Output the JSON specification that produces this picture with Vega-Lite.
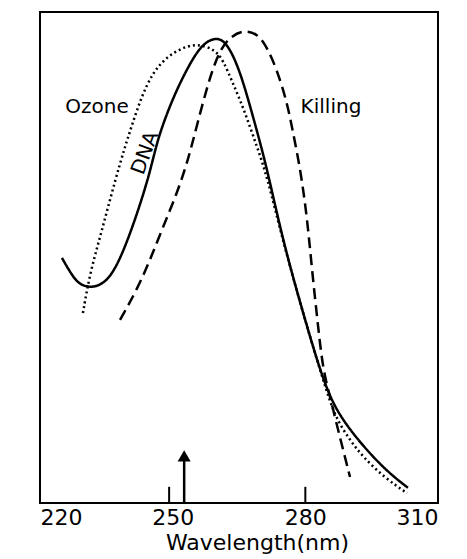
{
  "$schema": "https://vega.github.io/schema/vega-lite/v6.json",
  "width": 398,
  "height": 491,
  "autosize": "none",
  "padding": {"left": 40, "top": 12, "right": 29, "bottom": 56},
  "background": "white",
  "config": {
    "view": {"stroke": "black", "strokeWidth": 2},
    "font": "DejaVu Sans"
  },
  "datasets": {
    "curves": [
      {"series": "DNA", "w": 224.97, "v": 49.9},
      {"series": "DNA", "w": 227.2, "v": 46.4},
      {"series": "DNA", "w": 229.0, "v": 44.4},
      {"series": "DNA", "w": 231.8, "v": 43.8},
      {"series": "DNA", "w": 234.7, "v": 44.8},
      {"series": "DNA", "w": 237.4, "v": 48.1},
      {"series": "DNA", "w": 241.0, "v": 56.2},
      {"series": "DNA", "w": 244.9, "v": 67.2},
      {"series": "DNA", "w": 246.5, "v": 74.0},
      {"series": "DNA", "w": 250.1, "v": 82.7},
      {"series": "DNA", "w": 253.9, "v": 89.6},
      {"series": "DNA", "w": 256.9, "v": 93.7},
      {"series": "DNA", "w": 260.0, "v": 94.9},
      {"series": "DNA", "w": 262.3, "v": 93.7},
      {"series": "DNA", "w": 265.2, "v": 88.2},
      {"series": "DNA", "w": 268.2, "v": 78.6},
      {"series": "DNA", "w": 271.3, "v": 68.4},
      {"series": "DNA", "w": 275.0, "v": 53.0},
      {"series": "DNA", "w": 280.4, "v": 35.8},
      {"series": "DNA", "w": 284.0, "v": 25.1},
      {"series": "DNA", "w": 287.2, "v": 18.3},
      {"series": "DNA", "w": 293.0, "v": 11.6},
      {"series": "DNA", "w": 298.5, "v": 6.4},
      {"series": "DNA", "w": 303.2, "v": 3.1},
      {"series": "Ozone", "w": 229.7, "v": 38.7},
      {"series": "Ozone", "w": 231.3, "v": 46.8},
      {"series": "Ozone", "w": 233.6, "v": 54.2},
      {"series": "Ozone", "w": 235.8, "v": 61.7},
      {"series": "Ozone", "w": 238.1, "v": 69.2},
      {"series": "Ozone", "w": 239.9, "v": 74.5},
      {"series": "Ozone", "w": 241.9, "v": 80.0},
      {"series": "Ozone", "w": 244.2, "v": 85.5},
      {"series": "Ozone", "w": 247.1, "v": 89.6},
      {"series": "Ozone", "w": 251.0, "v": 92.3},
      {"series": "Ozone", "w": 255.5, "v": 93.7},
      {"series": "Ozone", "w": 259.6, "v": 92.3},
      {"series": "Ozone", "w": 261.4, "v": 90.2},
      {"series": "Ozone", "w": 263.6, "v": 85.5},
      {"series": "Ozone", "w": 265.9, "v": 80.7},
      {"series": "Ozone", "w": 269.1, "v": 72.5},
      {"series": "Ozone", "w": 271.4, "v": 66.4},
      {"series": "Ozone", "w": 275.0, "v": 53.0},
      {"series": "Ozone", "w": 280.4, "v": 35.8},
      {"series": "Ozone", "w": 284.0, "v": 25.1},
      {"series": "Ozone", "w": 286.7, "v": 17.5},
      {"series": "Ozone", "w": 290.1, "v": 12.8},
      {"series": "Ozone", "w": 293.0, "v": 9.4},
      {"series": "Ozone", "w": 298.0, "v": 5.1},
      {"series": "Ozone", "w": 303.0, "v": 2.0},
      {"series": "Killing", "w": 238.1, "v": 37.3},
      {"series": "Killing", "w": 241.9, "v": 43.4},
      {"series": "Killing", "w": 244.9, "v": 49.5},
      {"series": "Killing", "w": 247.8, "v": 56.2},
      {"series": "Killing", "w": 251.0, "v": 63.1},
      {"series": "Killing", "w": 253.5, "v": 69.9},
      {"series": "Killing", "w": 255.5, "v": 77.0},
      {"series": "Killing", "w": 258.4, "v": 86.8},
      {"series": "Killing", "w": 260.7, "v": 92.3},
      {"series": "Killing", "w": 263.0, "v": 94.9},
      {"series": "Killing", "w": 265.9, "v": 96.3},
      {"series": "Killing", "w": 269.1, "v": 95.7},
      {"series": "Killing", "w": 271.3, "v": 92.9},
      {"series": "Killing", "w": 273.6, "v": 88.2},
      {"series": "Killing", "w": 275.9, "v": 81.5},
      {"series": "Killing", "w": 277.2, "v": 75.5},
      {"series": "Killing", "w": 278.8, "v": 68.4},
      {"series": "Killing", "w": 280.4, "v": 58.2},
      {"series": "Killing", "w": 281.5, "v": 47.5},
      {"series": "Killing", "w": 282.9, "v": 35.8},
      {"series": "Killing", "w": 284.0, "v": 27.1},
      {"series": "Killing", "w": 285.6, "v": 21.6},
      {"series": "Killing", "w": 287.4, "v": 14.9},
      {"series": "Killing", "w": 290.1, "v": 5.3}
    ],
    "labels": [
      {"text": "Ozone", "w": 232.9, "v": 80.7, "angle": 0},
      {"text": "Killing", "w": 285.8, "v": 80.7, "angle": 0},
      {"text": "DNA", "w": 243.8, "v": 71.3, "angle": -70}
    ],
    "ticks": [
      {"w": 249.2, "v0": 0, "v1": 3.3},
      {"w": 280, "v0": 0, "v1": 3.3}
    ],
    "arrow": [
      {"w": 252.6, "v0": 0, "v1": 9.5, "head": 9.6}
    ]
  },
  "layer": [
    {
      "data": {"name": "curves"},
      "mark": {"type": "line", "color": "black", "strokeWidth": 2.5, "interpolate": "basis"},
      "encoding": {
        "x": {
          "field": "w", "type": "quantitative",
          "scale": {"domain": [220, 310], "nice": false, "zero": false},
          "axis": {
            "values": [220, 250, 280, 310],
            "title": "Wavelength(nm)",
            "titleFontSize": 22,
            "titleFontWeight": "normal",
            "titleColor": "black",
            "titlePadding": 4,
            "titleX": 217,
            "labelFontSize": 22,
            "labelColor": "black",
            "labelPadding": 4,
            "ticks": false,
            "grid": false,
            "domain": false
          }
        },
        "y": {
          "field": "v", "type": "quantitative",
          "scale": {"domain": [0, 100], "nice": false},
          "axis": null
        },
        "detail": {"field": "series"},
        "strokeDash": {
          "field": "series", "type": "nominal",
          "scale": {"domain": ["Ozone", "DNA", "Killing"], "range": [[2, 3], [1, 0], [11, 6]]},
          "legend": null
        }
      }
    },
    {
      "data": {"name": "ticks"},
      "mark": {"type": "rule", "color": "black", "strokeWidth": 2},
      "encoding": {
        "x": {"field": "w", "type": "quantitative"},
        "y": {"field": "v0", "type": "quantitative"},
        "y2": {"field": "v1"}
      }
    },
    {
      "data": {"name": "arrow"},
      "mark": {"type": "rule", "color": "black", "strokeWidth": 2.5},
      "encoding": {
        "x": {"field": "w", "type": "quantitative"},
        "y": {"field": "v0", "type": "quantitative"},
        "y2": {"field": "v1"}
      }
    },
    {
      "data": {"name": "arrow"},
      "mark": {"type": "point", "shape": "triangle-up", "filled": true, "color": "black", "size": 170, "opacity": 1},
      "encoding": {
        "x": {"field": "w", "type": "quantitative"},
        "y": {"field": "head", "type": "quantitative"}
      }
    },
    {
      "data": {"name": "labels"},
      "mark": {"type": "text", "fontSize": 20, "color": "black", "align": "center", "baseline": "middle"},
      "encoding": {
        "x": {"field": "w", "type": "quantitative"},
        "y": {"field": "v", "type": "quantitative"},
        "text": {"field": "text"},
        "angle": {"field": "angle", "type": "quantitative", "scale": null}
      }
    }
  ]
}
